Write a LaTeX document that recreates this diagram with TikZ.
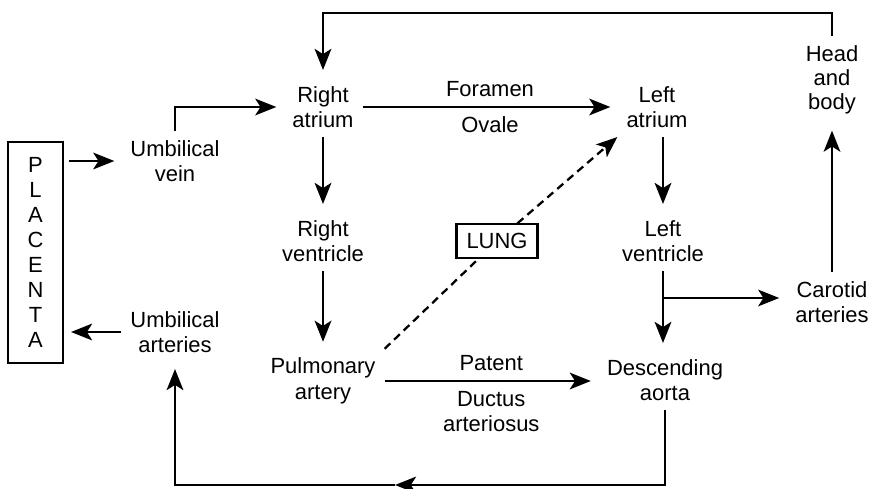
\documentclass[tikz,border=0pt]{standalone}
\usepackage{fontspec}
\setmainfont{Liberation Sans}
\usetikzlibrary{arrows.meta,positioning}
\tikzset{
  organ/.style={align=center, inner sep=5pt, font=\fontsize{12.5}{14.6}\selectfont},
  boxed/.style={draw, line width=1.2pt, fill=white},
  flow/.style={-{Stealth[length=12pt,width=9.5pt,inset=3pt]}, line width=1.3pt, shorten >=4pt},
  shunt/.style={flow, shorten >=0pt, dash pattern=on 4.5pt off 3pt},
}

\begin{document}
\begin{tikzpicture}[x=0.02cm,y=-0.02cm]
  \useasboundingbox (0,0) rectangle (871,489);
  % Set up the organs and vessels
  \node[organ, boxed, minimum width=1.1cm, minimum height=4.42cm,
    font=\fontsize{12.5}{14.3}\selectfont] (placenta) at (35.5,252.5)
    {P\\L\\A\\C\\E\\N\\T\\A};
  \node[organ] (uvein) at (175,161) {Umbilical\\vein};
  \node[organ] (uart) at (175,332) {Umbilical\\arteries};
  \node[organ] (ratrium) at (323,107) {Right\\atrium};
  \node[organ] (rvent) at (323,241) {Right\\ventricle};
  \node[organ] (pulm) at (323,381) {Pulmonary\\artery};
  \node[organ] (latrium) at (657,107) {Left\\atrium};
  \node[organ] (lvent) at (663,241) {Left\\ventricle};
  \node[organ] (desc) at (665,380) {Descending\\aorta};
  \node[organ] (carotid) at (832,302) {Carotid\\arteries};
  \node[organ, font=\fontsize{12.5}{13.8}\selectfont] (head) at (832,80) {Head\\and\\body};
  \node[organ, boxed, minimum width=1.62cm, minimum height=0.66cm] (lung) at (497,241) {LUNG};

  \coordinate (top) at (0,13);
  \coordinate (bottom) at (395,485);
  \coordinate (split) at (663,298);

  \draw[flow, shorten <=3pt] (placenta.east |- uvein) -- (uvein.west);
  \draw[flow] (uart.west) -- (placenta.east |- uart);
  \draw[flow] (uvein.north) |- (ratrium.west);
  \draw[flow] (ratrium) -- (rvent);
  \draw[flow] (rvent) -- (pulm);
  \draw[flow] (ratrium.east) -- (latrium.west)
    node[organ, midway, above] (foramen) {Foramen}
    node[organ, midway, below] (ovale) {Ovale};
  \draw[flow] (latrium.south -| lvent) -- (lvent.north);
  \draw[flow] (lvent.south) -- (lvent.south |- desc.north);
  \draw[flow] (split) -- (split -| carotid.west);
  \draw[flow] (carotid) -- (head);
  \draw[flow] (head.north) -- (head.north |- top) -| (ratrium.north);
  \draw[flow] (pulm.east) -- (pulm.east -| desc.west)
    node[organ, midway, above] (patent) {Patent}
    node[organ, midway, below] (ductus) {Ductus\\arteriosus};
  \draw[shunt] (pulm.north east) -- (lung) -- (latrium.south west);
  \draw[flow, shorten >=0pt] (desc.south) |- (bottom);
  \draw[flow] (bottom) -| (uart.south);
\end{tikzpicture}
\end{document}
